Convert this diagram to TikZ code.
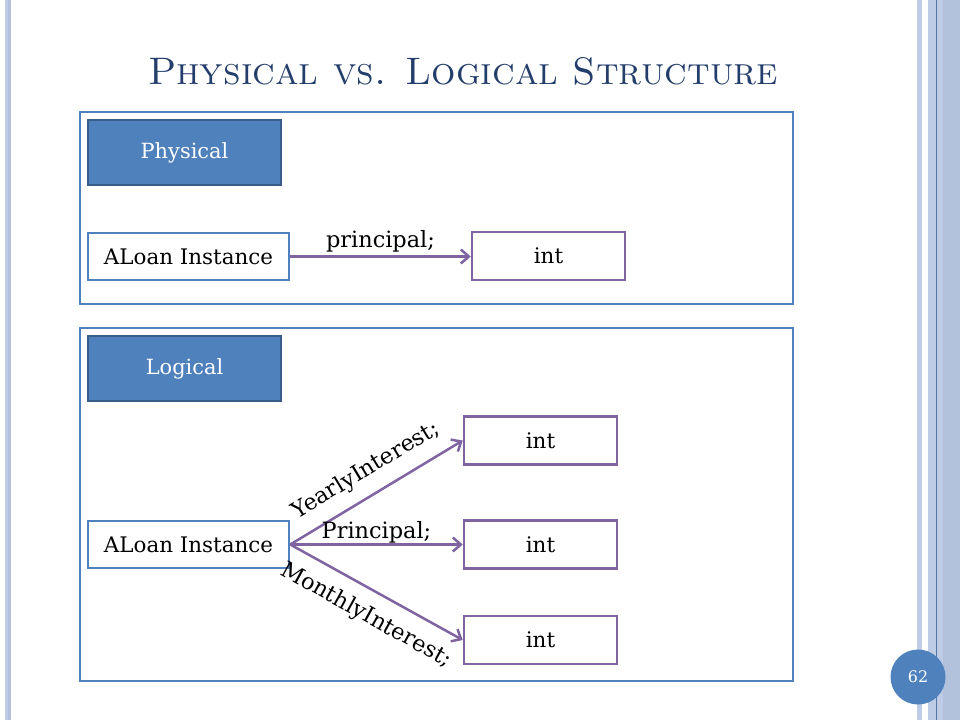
\documentclass[tikz,border=0pt]{standalone}
\usepackage{fontspec}
\newfontfamily\bodyfont{DejaVu Serif}
\usetikzlibrary{arrows.meta}
\definecolor{accblue}{HTML}{4F81BD}
\definecolor{darkblue}{HTML}{385D8A}
\definecolor{accpurple}{HTML}{8064A2}
\definecolor{titleblue}{RGB}{36,62,108}
\definecolor{stripe}{HTML}{BECCE5}
\definecolor{stripedark}{HTML}{B2C1DC}
\definecolor{stripeline}{HTML}{5875A8}
\tikzset{
  panel/.style={draw=accblue, line width=2.5bp},
  header/.style={draw=darkblue, fill=accblue, line width=2.5bp, text=white,
    minimum width=193bp, minimum height=65bp, inner sep=0pt, font=\bodyfont\fontsize{21}{24}\selectfont},
  objbox/.style={draw=accblue, fill=white, line width=2.5bp,
    minimum width=201bp, minimum height=47bp, inner sep=0pt, font=\bodyfont\fontsize{21.5}{24}\selectfont},
  intbox/.style={draw=accpurple, fill=white, line width=2.5bp,
    minimum width=153bp, minimum height=48bp, inner sep=0pt, font=\bodyfont\fontsize{21.5}{24}\selectfont},
  link/.style={draw=accpurple, line width=2.5bp, -{Straight Barb[length=8bp,width=14bp,line width=2.5bp]}},
  lbl/.style={font=\bodyfont\fontsize{22.5}{25}\selectfont, inner sep=1bp}
}
\begin{document}
\begin{tikzpicture}[x=1bp,y=-1bp]
\useasboundingbox (0,0) rectangle (960,720);
\fill[white] (0,0) rectangle (960,720);
% left decoration
\fill[stripe] (5,0) rectangle (8,720);
\fill[stripedark] (8,0) rectangle (11,720);
% right decoration
\fill[stripe] (917,0) rectangle (922,720);
\fill[stripe] (928,0) rectangle (960,720);
\fill[stripedark] (943,0) rectangle (960,720);
\draw[stripeline, line width=1bp] (936,0) -- (936,720);
% title
\node[text=titleblue, font=\fontfamily{lmr}\fontsize{38.5}{42}\selectfont\scshape] (title) at (463,71) {Physical vs. Logical Structure};
% panels
\draw[panel] (80,112) rectangle (793,304);
\draw[panel] (80,328) rectangle (793,681);
% physical
\node[header] (phys) at (184.5,152.5) {Physical};
\node[objbox] (aloan1) at (188.5,256.5) {ALoan Instance};
\node[intbox] (int0) at (548.5,256) {int};
\draw[link] (aloan1.east) -- (int0.west |- aloan1.east) node[lbl, midway, above=2bp] (lp) {principal;};
% logical
\node[header] (logi) at (184.5,368.5) {Logical};
\node[objbox] (aloan2) at (188.5,544.5) {ALoan Instance};
\node[intbox] (int1) at (540.5,440.5) {int};
\node[intbox] (int2) at (540.5,544.5) {int};
\node[intbox] (int3) at (540.5,640) {int};
\draw[link] (aloan2.east) -- (int1.west) node[lbl, sloped, pos=0.51, above=11bp] (ly) {YearlyInterest;};
\draw[link] (aloan2.east) -- (int2.west) node[lbl, midway, above=-1bp] (lpr) {Principal;};
\draw[link] (aloan2.east) -- (int3.west) node[lbl, sloped, pos=0.51, below=12bp] (lm) {MonthlyInterest;};
% page number
\node[circle, fill=accblue, minimum size=55bp, inner sep=0pt, text=white, font=\bodyfont\fontsize{16}{18}\selectfont] (pg) at (918,677) {62};
\end{tikzpicture}
\end{document}
